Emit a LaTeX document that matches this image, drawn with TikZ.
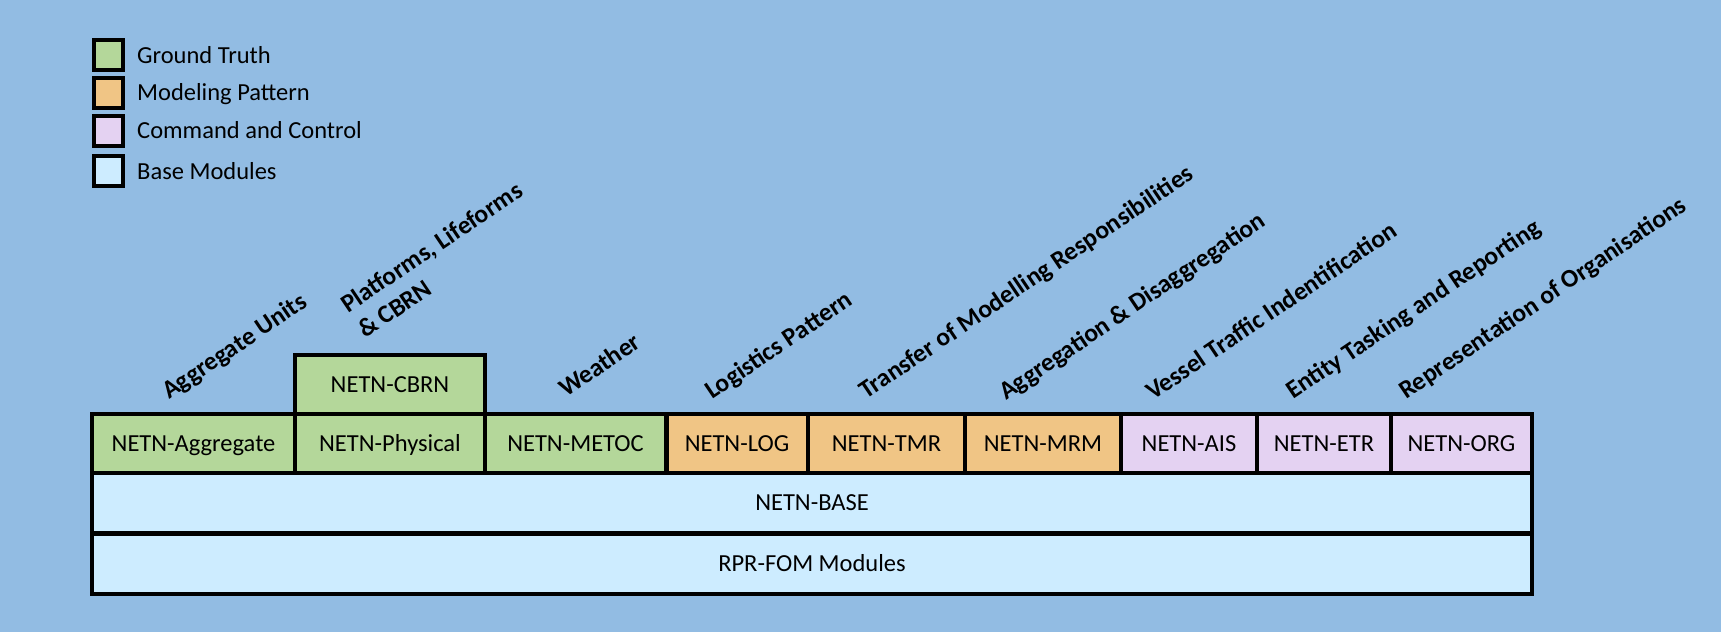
\documentclass[tikz,border=0pt]{standalone}
\usepackage{fontspec}
\setmainfont{Carlito}
\definecolor{bgc}{RGB}{146,188,227}
\definecolor{gtc}{RGB}{180,215,154}
\definecolor{mpc}{RGB}{240,197,133}
\definecolor{ccc}{RGB}{228,210,242}
\definecolor{bmc}{RGB}{205,236,255}
\begin{document}
\begin{tikzpicture}[x=1pt,y=-1pt,
  modbox/.style={draw=black, line width=4pt, rectangle, inner sep=0pt,
    font=\fontsize{24.5}{29}\selectfont, text height=15.8pt, text depth=0pt},
  legbox/.style={draw=black, line width=4pt, rectangle, inner sep=0pt,
    minimum width=29pt, minimum height=30pt},
  legtext/.style={anchor=base west, inner sep=0pt, font=\fontsize{24.5}{29}\selectfont},
  catlabel/.style={anchor=base west, inner sep=0pt, rotate=34,
    font=\bfseries\fontsize{25.5}{30}\selectfont}
]
\fill[bgc] (0,0) rectangle (1721,632);
\useasboundingbox (0,0) rectangle (1721,632);

% legend
\node[legbox, fill=gtc] (lg1) at (108,55) {};
\node[legbox, fill=mpc] (lg2) at (108,92.5) {};
\node[legbox, fill=ccc] (lg3) at (108,130.5) {};
\node[legbox, fill=bmc] (lg4) at (108,171) {};
\node[legtext] (lt1) at (137,63.3) {Ground Truth};
\node[legtext] (lt2) at (137,100.8) {Modeling Pattern};
\node[legtext] (lt3) at (137,138.8) {Command and Control};
\node[legtext] (lt4) at (137,179.3) {Base Modules};

% base rows
\node[modbox, fill=bmc, minimum width=1440pt, minimum height=60pt] (rpr) at (812,563.5) {RPR-FOM Modules};
\node[modbox, fill=bmc, minimum width=1440pt, minimum height=60pt] (base) at (812,503) {NETN-BASE};

% module row
\node[modbox, fill=gtc, minimum width=203pt, minimum height=59pt] (agg) at (193.5,443.5) {NETN-Aggregate};
\node[modbox, fill=gtc, minimum width=190pt, minimum height=59pt] (phys) at (390,443.5) {NETN-Physical};
\node[modbox, fill=gtc, minimum width=190pt, minimum height=59pt] (cbrn) at (390,384.5) {NETN-CBRN};
\node[modbox, fill=gtc, minimum width=181pt, minimum height=59pt] (metoc) at (575.5,443.5) {NETN-METOC};
\node[modbox, fill=mpc, minimum width=141pt, minimum height=59pt] (logm) at (737,443.5) {NETN-LOG};
\node[modbox, fill=mpc, minimum width=157pt, minimum height=59pt] (tmr) at (886.5,443.5) {NETN-TMR};
\node[modbox, fill=mpc, minimum width=156pt, minimum height=59pt] (mrm) at (1043,443.5) {NETN-MRM};
\node[modbox, fill=ccc, minimum width=136pt, minimum height=59pt] (ais) at (1189,443.5) {NETN-AIS};
\node[modbox, fill=ccc, minimum width=134pt, minimum height=59pt] (etr) at (1324,443.5) {NETN-ETR};
\node[modbox, fill=ccc, minimum width=141pt, minimum height=59pt] (org) at (1461.5,443.5) {NETN-ORG};

% category labels
\node[catlabel] (c1) at (169,400) {Aggregate Units};
\node[catlabel] (c2a) at (348,314) {Platforms, Lifeforms};
\node[catlabel] (c2b) at (365,339) {\& CBRN};
\node[catlabel] (c3) at (566,398) {Weather};
\node[catlabel] (c4) at (712,400) {Logistics Pattern};
\node[catlabel] (c5) at (866,400) {Transfer of Modelling Responsibilities};
\node[catlabel] (c6) at (1006,401) {Aggregation \& Disaggregation};
\node[catlabel] (c7) at (1153,401) {Vessel Traffic Indentification};
\node[catlabel] (c8) at (1293,400) {Entity Tasking and Reporting};
\node[catlabel] (c9) at (1406,400) {Representation of Organisations};
\end{tikzpicture}
\end{document}
